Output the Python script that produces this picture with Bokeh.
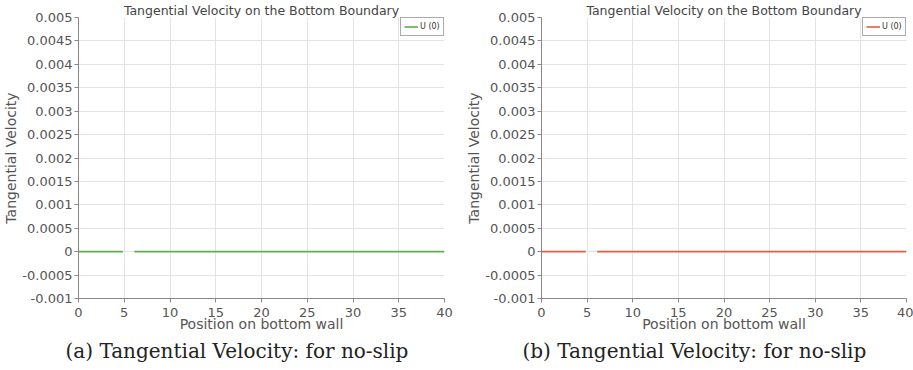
from bokeh.plotting import figure
from bokeh.layouts import row
from bokeh.models import Range1d, FixedTicker, Title
from bokeh.embed import file_html
from bokeh.resources import INLINE

# Wall-tangential velocity sampled along the bottom boundary (gap where no samples exist)
position = [0.0, 4.85, float("nan"), 6.1, 40.0]
velocity_a = [0.0, 0.0, float("nan"), 0.0, 0.0]
velocity_b = [0.0, 0.0, float("nan"), 0.0, 0.0]

x_ticks = [0, 5, 10, 15, 20, 25, 30, 35, 40]
y_ticks = [-0.001, -0.0005, 0, 0.0005, 0.001, 0.0015, 0.002, 0.0025,
           0.003, 0.0035, 0.004, 0.0045, 0.005]
y_tick_labels = ["-0.001", "-0.0005", "0", "0.0005", "0.001", "0.0015", "0.002",
                 "0.0025", "0.003", "0.0035", "0.004", "0.0045", "0.005"]

chart_title = "Tangential Velocity on the Bottom Boundary"
series_name = "U (0)"
captions = ["(a) Tangential Velocity: for no-slip", "(b) Tangential Velocity: for no-slip"]

FONT = "DejaVu Sans"


def make_panel(yvals, color, caption, width, left, right, cap_offset):
    p = figure(width=width, height=370, output_backend="svg", toolbar_location=None,
               min_border_left=left, min_border_right=right,
               min_border_top=0, min_border_bottom=72,
               x_range=Range1d(0, 40), y_range=Range1d(-0.001, 0.005))
    p.outline_line_color = None
    p.background_fill_color = "white"
    p.border_fill_color = "white"

    p.title.text = chart_title
    p.title.align = "center"
    p.title.text_font = FONT
    p.title.text_font_size = "12.5px"
    p.title.text_font_style = "normal"
    p.title.text_color = "#444444"
    p.title.text_line_height = 0.85
    p.title.standoff = 0

    p.line(position, yvals, line_color=color, line_width=1.6, legend_label=series_name)

    for ax in (p.xaxis[0], p.yaxis[0]):
        ax.axis_line_color = "#888888"
        ax.major_tick_line_color = "#888888"
        ax.major_tick_out = 4
        ax.major_tick_in = 0
        ax.minor_tick_line_color = None
        ax.major_label_text_font = FONT
        ax.major_label_text_font_size = "13px"
        ax.major_label_text_color = "#555555"
        ax.axis_label_text_font = FONT
        ax.axis_label_text_font_size = "14px"
        ax.axis_label_text_font_style = "normal"
        ax.axis_label_text_color = "#555555"

    p.xaxis.ticker = FixedTicker(ticks=x_ticks)
    p.yaxis.ticker = FixedTicker(ticks=y_ticks)
    p.yaxis.major_label_overrides = {t: s for t, s in zip(y_ticks, y_tick_labels)}
    p.xaxis.axis_label = "Position on bottom wall"
    p.yaxis.axis_label = "Tangential Velocity"
    p.xaxis.major_label_standoff = 5
    p.xaxis.axis_label_standoff = -4
    p.yaxis.major_label_standoff = 2
    p.yaxis.axis_label_standoff = 0

    p.grid.grid_line_color = "#e3e3e3"
    p.grid.grid_line_width = 1

    lg = p.legend[0]
    lg.location = "top_right"
    lg.margin = 0
    lg.padding = 3
    lg.spacing = 0
    lg.border_line_color = "#555555"
    lg.border_line_width = 1
    lg.background_fill_alpha = 1
    lg.label_text_font = FONT
    lg.label_text_font_size = "8px"
    lg.label_text_color = "#333333"
    lg.glyph_width = 14
    lg.glyph_height = 11
    lg.label_standoff = 2
    lg.label_height = 11

    # sub-figure caption under the axis
    cap = Title(text=caption, align="left", offset=cap_offset, vertical_align="middle",
                standoff=6, text_font="DejaVu Serif", text_font_size="20px",
                text_font_style="normal", text_color="#222222")
    p.add_layout(cap, "below")
    return p


left_plot = make_panel(velocity_a, "#5cae4e", captions[0], 456, 78, 12, -13)
right_plot = make_panel(velocity_b, "#ee5a3c", captions[1], 457, 85, 7, -19)

layout = row(left_plot, right_plot, spacing=0)
open("out.html", "w").write(file_html(layout, INLINE))
